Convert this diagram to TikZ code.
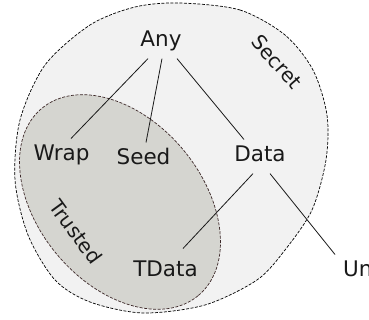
\documentclass[tikz,border=0pt]{standalone}
\usepackage{fontspec}
\setmainfont{DejaVu Sans}
\usetikzlibrary{calc}
\definecolor{secretfill}{RGB}{242,242,242}
\definecolor{trustfill}{RGB}{213,213,208}
\definecolor{trustline}{RGB}{60,40,40}

\begin{document}
\begin{tikzpicture}[x=1pt,y=1pt,
	type/.style={anchor=base,inner sep=6pt,text height=16.3pt,text depth=5.4pt,font=\fontsize{21.5}{26}\selectfont,text=black!90},
	zone/.style={font=\fontsize{20}{24}\selectfont,text=black!90},
	edge/.style={line width=0.8pt,color=black!90},
	border/.style={line width=0.7pt,dash pattern=on 3pt off 1.5pt}]
			%%%%% START %%%%%
			\useasboundingbox (0,0) rectangle (369,320);
			
			% secret region
			\draw[border,fill=secretfill] plot[smooth cycle] coordinates {
				(180,317) (240,310) (285,285) (313,250) (327,205) (326,160)
				(312,110) (285,70) (257,40) (205,15) (143,7) (90,18)
				(55,40) (28,85) (15,140) (20,200) (45,255) (90,295) (135,313)};
			
			% trusted region
			\draw[border,draw=trustline,fill=trustfill,rotate around={-50:(120,118)}] (120,118) ellipse (122 and 82);
			
			\node[zone,rotate=-49] (secret) at (277,258) {Secret};
			\node[zone,rotate=-54] (trusted) at (76,88) {Trusted};
			
			\node[type] (any) at (161,273) {Any};
			\node[type] (wrap) at (61.5,159) {Wrap};
			\node[type] (seed) at (143.5,155) {Seed};
			\node[type] (data) at (260,158) {Data};
			\node[type] (tdata) at (165.5,43) {TData};
			\node[type,anchor=base west] (un) at (337,43) {Un};
			
			\draw[edge] ([xshift=-13pt]any.south) -- ([xshift=9.5pt]wrap.north);
			\draw[edge] ([xshift=1pt]any.south) -- ([xshift=2.5pt]seed.north);
			\draw[edge] ([xshift=16pt]any.south) -- ([xshift=-16pt]data.north);
			\draw[edge] ([xshift=-7pt]data.south) -- ([xshift=17.5pt,yshift=6pt]tdata.north);
			\draw[edge] ([xshift=10pt]data.south) -- ([xshift=-2pt]un.north west);
			
			%%%%% END %%%%%
\end{tikzpicture}
\end{document}
